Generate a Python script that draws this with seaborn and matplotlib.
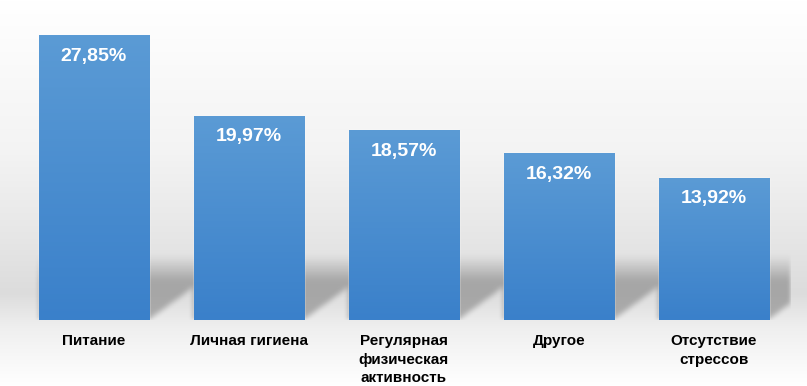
"""
Bar chart of health factors (shares in %), white value labels inside bars.
"""

import numpy as np
import matplotlib.pyplot as plt
import matplotlib.colors as mcolors
import seaborn as sns

categories = ['Питание', 'Личная гигиена', 'Регулярная\nфизическая\nактивность',
              'Другое', 'Отсутствие\nстрессов']
values = [27.85, 19.97, 18.57, 16.32, 13.92]
value_labels = ['27,85%', '19,97%', '18,57%', '16,32%', '13,92%']

sns.set_theme(style='white')
plt.rcParams['font.family'] = ['Liberation Sans', 'DejaVu Sans']

fig = plt.figure(figsize=(8.07, 3.86), dpi=100)

# background: soft grey band behind the lower part of the bars
bg = fig.add_axes([0, 0, 1, 1], zorder=0)
bg_cmap = mcolors.LinearSegmentedColormap.from_list(
    'bg', [(0.0, '#ffffff'), (0.4, '#f3f3f3'), (0.62, '#e6e6e6'),
           (0.76, '#dcdcdc'), (0.85, '#efefef'), (1.0, '#ffffff')])
bg.imshow(np.linspace(0, 1, 256).reshape(-1, 1), aspect='auto', cmap=bg_cmap,
          extent=[0, 1, 1, 0])
bg.set_xlim(0, 1)
bg.set_ylim(1, 0)
bg.axis('off')

ax = fig.add_axes([0.0204, 0.171, 0.960, 0.795], zorder=1)
ax.patch.set_alpha(0)

bar_width = 0.71
sns.barplot(x=list(range(len(values))), y=values, color='#4a8ed2',
            width=bar_width, ax=ax)

# soft cast shadow behind each bar (decoration)
xs = np.linspace(-0.5, len(values) - 0.5, 800)
ys = np.linspace(0, 30, 300)
X, Y = np.meshgrid(xs, ys)
shade = np.zeros_like(X)
sh_top, sh_dx, sh_dy = 6.3, 0.29, 3.2
for patch in ax.patches:
    L = patch.get_x()
    R = L + patch.get_width()
    inside = (X >= L) & (X <= R + sh_dx) & (Y <= sh_top)
    inside &= Y >= np.clip((X - R) * sh_dy / sh_dx, 0, None)
    shade = np.maximum(shade, inside * 1.0)
prof = np.clip((sh_top - Y) / 2.5, 0, 1)
shade = shade * prof


def box_blur(a, k, axis):
    kern = np.ones(k) / k
    return np.apply_along_axis(lambda r: np.convolve(r, kern, mode='same'), axis, a)


shade = box_blur(box_blur(shade, 7, 1), 7, 0)
shade = box_blur(box_blur(shade, 5, 1), 5, 0)
rgba = np.zeros(shade.shape + (4,))
rgba[..., :3] = 0.42
rgba[..., 3] = 0.48 * shade
ax.imshow(rgba, aspect='auto', origin='lower',
          extent=[xs[0], xs[-1], ys[0], ys[-1]], zorder=0.5)

# vertical gradient on each bar
bar_cmap = mcolors.LinearSegmentedColormap.from_list(
    'bar', ['#3a80ca', '#5b9bd5'])
grad = np.linspace(0, 1, 256).reshape(-1, 1)
for patch in ax.patches:
    x0, y0 = patch.get_x(), patch.get_y()
    w, h = patch.get_width(), patch.get_height()
    im = ax.imshow(grad, aspect='auto', cmap=bar_cmap, origin='lower',
                   extent=[x0, x0 + w, y0, y0 + h], zorder=patch.get_zorder() + 0.1)
    im.set_clip_path(patch)

for i, (v, lab) in enumerate(zip(values, value_labels)):
    ax.text(i, v - 2.05, lab, ha='center', va='center', color='white',
            fontsize=14, fontweight='bold', zorder=5)

ax.set_xlim(-0.5, len(values) - 0.5)
ax.set_ylim(0, 30)
ax.set_xticks(range(len(values)))
ax.set_xticklabels(categories, fontsize=11, fontweight='bold', color='black',
                   linespacing=1.42, va='top')
ax.tick_params(axis='x', length=0, pad=10)
ax.set_yticks([])
sns.despine(ax=ax, left=True, bottom=True)

fig.savefig('out.png', dpi=100)
